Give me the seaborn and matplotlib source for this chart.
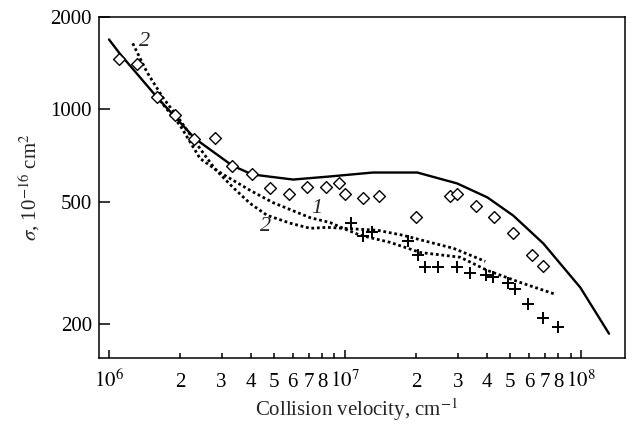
import matplotlib
matplotlib.use('Agg')

import numpy as np
import pandas as pd
import matplotlib.pyplot as plt
from matplotlib.ticker import FixedLocator, NullLocator
import seaborn as sns

# solid curve
solid_v = [1.00e6, 1.11e6, 1.60e6, 2.31e6, 3.32e6, 4.04e6, 6.02e6, 8.64e6,
           1.31e7, 2.02e7, 2.98e7, 4.0e7, 5.15e7, 6.9e7, 9.9e7, 1.31e8]
solid_s = [1690, 1521, 1094, 804, 657, 614, 591, 605,
           623, 623, 574, 517, 451, 366, 263, 186]

# dotted curve 1
c1_v = [1.64e6, 2.0e6, 2.43e6, 2.95e6, 3.96e6, 4.95e6, 6.26e6, 7.11e6, 8.64e6,
        9.8e6, 1.16e7, 1.55e7, 2.08e7, 3.07e7, 4.0e7, 5.52e7, 7.76e7]
c1_s = [1070, 887, 692, 623, 545, 497, 462, 444, 428,
        410, 389, 369, 342, 330, 299, 273, 250]

# dotted curve 2
c2_v = [1.26e6, 1.45e6, 1.69e6, 2.0e6, 2.43e6, 2.81e6, 3.35e6, 3.96e6, 4.67e6,
        5.85e6, 7.11e6, 8.39e6, 9.8e6, 1.37e7, 1.76e7, 2.29e7, 2.87e7, 3.92e7]
c2_s = [1641, 1320, 1094, 921, 745, 640, 557, 494, 452,
        426, 410, 413, 410, 404, 389, 369, 353, 320]

# diamonds
dia_v = [1.10e6, 1.31e6, 1.60e6, 1.90e6, 2.29e6, 2.81e6, 3.32e6, 4.04e6, 4.81e6,
         5.79e6, 6.90e6, 8.30e6, 9.43e6, 1.0e7, 1.19e7, 1.39e7, 2.0e7, 2.79e7,
         2.98e7, 3.59e7, 4.28e7, 5.15e7, 6.2e7, 6.9e7]
dia_s = [1455, 1402, 1094, 956, 799, 805, 652, 614, 553,
         529, 557, 557, 574, 532, 513, 521, 445, 521,
         532, 483, 445, 395, 335, 308]

# crosses
crs_v = [1.06e7, 1.19e7, 1.30e7, 1.85e7, 2.04e7, 2.18e7, 2.48e7, 2.98e7,
         3.39e7, 3.96e7, 4.24e7, 4.91e7, 5.25e7, 5.96e7, 6.9e7, 8.0e7]
crs_s = [428, 386, 398, 372, 335, 306, 306, 306,
         294, 288, 284, 273, 261, 233, 210, 195]

x_major = [1e6, 1e7, 1e8]
x_major_labels = ['$10^6$', '$10^7$', '$10^8$']
x_minor = [2e6, 3e6, 4e6, 5e6, 6e6, 7e6, 8e6, 9e6,
           2e7, 3e7, 4e7, 5e7, 6e7, 7e7, 8e7, 9e7]
x_minor_labels = ['2', '3', '4', '5', '6', '7', '8', '',
                  '2', '3', '4', '5', '6', '7', '8', '']
y_ticks = [200, 500, 1000, 2000]
y_tick_labels = ['200', '500', '1000', '2000']

sns.set_style('ticks')
plt.rcParams['font.family'] = ['Liberation Serif', 'DejaVu Serif']
plt.rcParams['mathtext.fontset'] = 'stix'
plt.rcParams['font.size'] = 15

fig = plt.figure(figsize=(6.37, 4.32), dpi=100)
ax = fig.add_axes([0.1554, 0.1713, 0.8257, 0.7893])
ax.set_xscale('log')
ax.set_yscale('log')

dotted = (0, (1, 1))
sns.lineplot(x=solid_v, y=solid_s, sort=False, estimator=None, color='black',
             linewidth=1.7, ax=ax)
sns.lineplot(x=c1_v, y=c1_s, sort=False, estimator=None, color='black',
             linewidth=2.0, linestyle=dotted, ax=ax)
sns.lineplot(x=c2_v, y=c2_s, sort=False, estimator=None, color='black',
             linewidth=2.0, linestyle=dotted, ax=ax)
sns.scatterplot(x=dia_v, y=dia_s, marker='D', s=36, facecolor='white',
                edgecolor='black', linewidth=1.0, ax=ax, zorder=3)
sns.scatterplot(x=crs_v, y=crs_s, marker='+', s=75, color='black',
                linewidth=1.4, ax=ax, zorder=3)

# curve labels
ax.text(1.42e6, 1664, '2', fontsize=16, fontstyle='italic', ha='center', va='center')
ax.text(7.6e6, 476, '1', fontsize=16, fontstyle='italic', ha='center', va='center')
ax.text(4.58e6, 416, '2', fontsize=16, fontstyle='italic', ha='center', va='center')

ax.set_xlim(0.907e6, 1.53e8)
ax.set_ylim(155, 2000)

ax.xaxis.set_major_locator(FixedLocator(x_major))
ax.xaxis.set_minor_locator(FixedLocator(x_minor))
ax.set_xticklabels(x_major_labels)
ax.set_xticklabels(x_minor_labels, minor=True)
ax.yaxis.set_major_locator(FixedLocator(y_ticks))
ax.yaxis.set_minor_locator(NullLocator())
ax.set_yticklabels(y_tick_labels)

ax.tick_params(axis='both', which='both', direction='in', top=False, right=False,
               width=1.1, colors='black', labelsize=15)
ax.tick_params(axis='x', which='major', length=6, pad=21)
ax.tick_params(axis='x', which='minor', length=3.5, pad=21)
ax.tick_params(axis='y', which='major', length=8, pad=5)
for lbl in ax.get_xticklabels() + ax.get_xticklabels(minor=True):
    lbl.set_va('baseline')

for sp in ax.spines.values():
    sp.set_visible(True)
    sp.set_linewidth(1.1)
    sp.set_color('black')

ax.set_xlabel(r'Collision velocity, cm$^{-1}$', fontsize=15)
ax.set_ylabel(r'$\sigma$, 10$^{-16}$ cm$^{2}$', fontsize=15)
ax.xaxis.set_label_coords(0.49, -0.112)
ax.yaxis.set_label_coords(-0.108, 0.5)

plt.savefig('out.png', dpi=100)
plt.close()
